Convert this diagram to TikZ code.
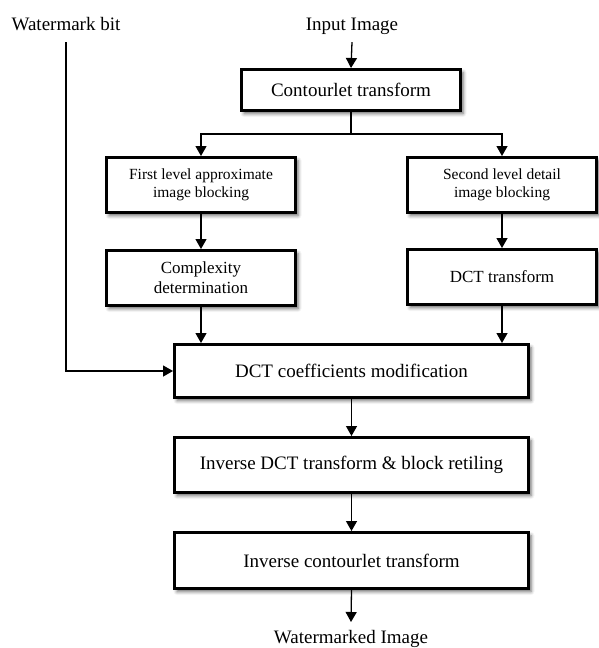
\documentclass[tikz,border=0pt]{standalone}
\usepackage{fontspec}
\setmainfont{Liberation Serif}
\usetikzlibrary{arrows.meta,shadows.blur}

\begin{document}
\begin{tikzpicture}[x=1pt,y=-1pt,
  box/.style={draw,line width=3pt,fill=white,align=center,inner sep=0pt,
    blur shadow={shadow xshift=2.5pt,shadow yshift=-3pt,shadow blur radius=3.5pt,shadow opacity=60}},
  big/.style={font=\fontsize{19}{21}\selectfont},
  mid/.style={font=\fontsize{17}{20}\selectfont},
  small/.style={font=\fontsize{15.5}{18.5}\selectfont},
  lbl/.style={font=\fontsize{19}{21}\selectfont,anchor=base,inner xsep=0pt},
  arr/.style={line width=1.3pt,-{Triangle[width=11pt,length=10pt]}},
  link/.style={line width=1.3pt}]

\useasboundingbox (0,0) rectangle (599,648);

% outside labels
\node[lbl,inner ysep=12pt] (wb) at (66,30) {Watermark bit};
\node[lbl,inner ysep=8pt,text depth=4pt] (in) at (352,30) {Input Image};
\node[lbl,inner ysep=0pt] (out) at (351,643) {Watermarked Image};

% processing blocks
\node[box,big,minimum width=219pt,minimum height=41pt] (cont) at (351,90) {Contourlet transform};
\node[box,small,minimum width=189pt,minimum height=55pt] (fa) at (201,185) {First level approximate\\image blocking};
\node[box,small,minimum width=189pt,minimum height=55pt] (sd) at (502,185) {Second level detail\\image blocking};
\node[box,mid,minimum width=189pt,minimum height=55pt] (cx) at (201,278) {Complexity\\determination};
\node[box,mid,minimum width=189pt,minimum height=55pt] (dt) at (502,277) {DCT transform};
\node[box,big,minimum width=354pt,minimum height=53pt] (mod) at (351.5,371) {DCT coefficients modification};
\node[box,big,minimum width=354pt,minimum height=55pt] (inv) at (351.5,465) {Inverse DCT transform \& block retiling};
\node[box,big,minimum width=354pt,minimum height=56pt] (ic) at (351.5,560.5) {Inverse contourlet transform};

% connectors
\coordinate (split) at (351,134);
\coordinate (outtip) at (351,622);
\draw[arr] (in.south) -- (cont.north);
\draw[link] (cont.south) -- (split);
\draw[arr] (split) -| (fa.north);
\draw[arr] (split) -| (sd.north);
\draw[arr] (fa) -- (cx);
\draw[arr] (sd) -- (dt);
\draw[arr] (cx.south) -- (cx.south |- mod.north);
\draw[arr] (dt.south) -- (dt.south |- mod.north);
\draw[arr] (wb.south) |- (mod.west);
\draw[arr] (mod) -- (inv);
\draw[arr] (inv) -- (ic);
\draw[arr] (ic.south) -- (outtip);
\end{tikzpicture}
\end{document}
